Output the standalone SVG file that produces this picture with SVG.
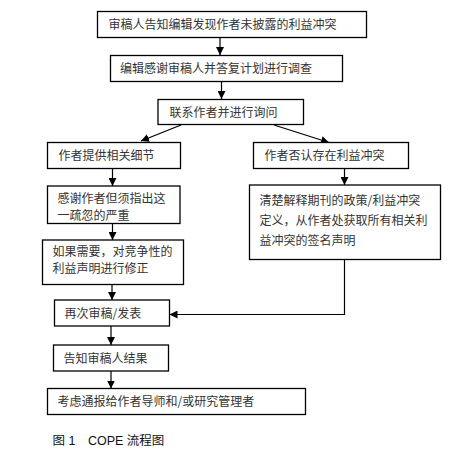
<svg xmlns="http://www.w3.org/2000/svg" width="461" height="460" viewBox="0 0 461 460">
<style>
.box{fill:#fff;stroke:#000;stroke-width:1.3}
.t{font-family:"Noto Sans CJK SC","Liberation Sans",sans-serif;font-size:12px;fill:#333}
.c{stroke:#000;stroke-width:1.2;fill:none}
.cap{font-family:"Liberation Sans","Noto Sans CJK SC",sans-serif;font-size:12.5px;fill:#111}
</style>
<defs>
<marker id="ah" viewBox="0 0 10 10" refX="10" refY="5" markerWidth="8" markerHeight="8" markerUnits="userSpaceOnUse" orient="auto">
<path d="M0,0 L10,5 L0,10 z" fill="#000"/>
</marker>
</defs>
<rect width="461" height="460" fill="#fff"/>
<g id="connectors">
<line class="c" x1="220" y1="37.5" x2="220" y2="55" marker-end="url(#ah)"/>
<line class="c" x1="221.5" y1="81.5" x2="221.5" y2="99" marker-end="url(#ah)"/>
<line class="c" x1="181" y1="125" x2="141" y2="141" marker-end="url(#ah)"/>
<line class="c" x1="274" y1="125" x2="329" y2="142.5" marker-end="url(#ah)"/>
<line class="c" x1="112.5" y1="168.5" x2="112.5" y2="186" marker-end="url(#ah)"/>
<line class="c" x1="112.5" y1="223.5" x2="112.5" y2="240" marker-end="url(#ah)"/>
<line class="c" x1="112" y1="284.5" x2="112" y2="300" marker-end="url(#ah)"/>
<line class="c" x1="344.5" y1="168.5" x2="344.5" y2="185" marker-end="url(#ah)"/>
<polyline class="c" points="344.5,259.5 344.5,314.5 169.5,314.5" marker-end="url(#ah)"/>
<line class="c" x1="111" y1="326" x2="111" y2="345" marker-end="url(#ah)"/>
<line class="c" x1="111" y1="371" x2="111" y2="388.5" marker-end="url(#ah)"/>
</g>
<g id="n1"><rect class="box" x="97.5" y="11.5" width="269" height="26"/><text class="t" x="108.5" y="29">审稿人告知编辑发现作者未披露的利益冲突</text></g>
<g id="n2"><rect class="box" x="110.5" y="55.5" width="232" height="26"/><text class="t" x="120" y="73">编辑感谢审稿人并答复计划进行调查</text></g>
<g id="n3"><rect class="box" x="158" y="99.5" width="145.5" height="25"/><text class="t" x="169.5" y="116.5">联系作者并进行询问</text></g>
<g id="n4"><rect class="box" x="47.5" y="142.5" width="133" height="26"/><text class="t" x="58.5" y="160">作者提供相关细节</text></g>
<g id="n5"><rect class="box" x="253.5" y="142.5" width="155" height="26"/><text class="t" x="264.5" y="160">作者否认存在利益冲突</text></g>
<g id="n6"><rect class="box" x="47.5" y="186" width="132.5" height="37.5"/><text class="t" x="57.5" y="202.5">感谢作者但须指出这</text><text class="t" x="57.5" y="219.5">一疏忽的严重</text></g>
<g id="n7"><rect class="box" x="42.5" y="240" width="141" height="44.5"/><text class="t" x="52.5" y="256">如果需要，对竞争性的</text><text class="t" x="52.5" y="273">利益声明进行修正</text></g>
<g id="n8"><rect class="box" x="249.5" y="185" width="191" height="74.5"/><text class="t" x="259.5" y="204.5">清楚解释期刊的政策/利益冲突</text><text class="t" x="259.5" y="224.5">定义，从作者处获取所有相关利</text><text class="t" x="259.5" y="244.5">益冲突的签名声明</text></g>
<g id="n9"><rect class="box" x="54.5" y="300" width="115" height="26"/><text class="t" x="64.5" y="317.5">再次审稿/发表</text></g>
<g id="n10"><rect class="box" x="53.5" y="345" width="115" height="26"/><text class="t" x="63.5" y="362.5">告知审稿人结果</text></g>
<g id="n11"><rect class="box" x="47.5" y="388.5" width="258" height="26"/><text class="t" x="57.5" y="406">考虑通报给作者导师和/或研究管理者</text></g>
<text class="cap" x="52.5" y="445">图 1　COPE 流程图</text>
</svg>
